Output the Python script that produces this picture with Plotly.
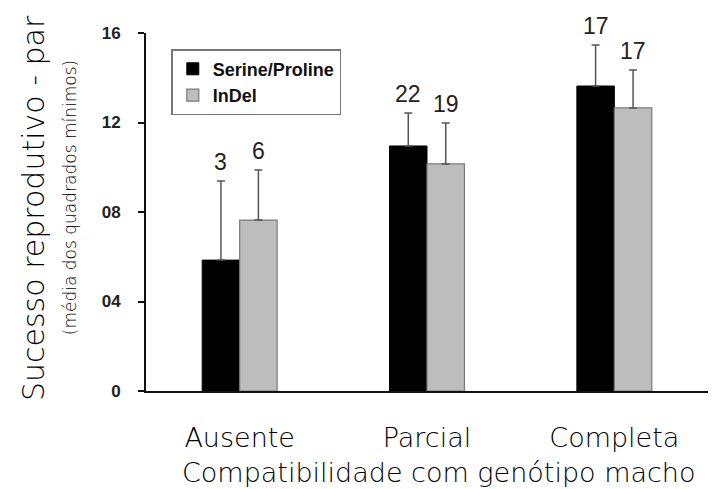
import plotly.graph_objects as go

# dados
categorias = ["Ausente", "Parcial", "Completa"]
serine_proline = [0.0585, 0.1095, 0.1363]
serine_proline_erro = [0.0354, 0.0147, 0.0183]
indel = [0.0764, 0.1015, 0.1265]
indel_erro = [0.0224, 0.0183, 0.0170]
n_serine = ["3", "22", "17"]
n_indel = ["6", "19", "17"]
y_ticks = [0, 0.04, 0.08, 0.12, 0.16]
y_ticktext = ["0", "04", "08", "12", "16"]

fonte_titulo = "DejaVu Sans"

fig = go.Figure()

fig.add_trace(go.Bar(
    x=categorias, y=serine_proline, name="Serine/Proline",
    marker=dict(color="#000000", line=dict(color="#000000", width=1)),
    error_y=dict(type="data", symmetric=False, array=serine_proline_erro,
                 arrayminus=[0, 0, 0], color="#555555", thickness=1.5, width=4),
))
fig.add_trace(go.Bar(
    x=categorias, y=indel, name="InDel",
    marker=dict(color="#bdbdbd", line=dict(color="#7a7a7a", width=1.2)),
    error_y=dict(type="data", symmetric=False, array=indel_erro,
                 arrayminus=[0, 0, 0], color="#555555", thickness=1.5, width=4),
))

# tamanhos amostrais acima das barras de erro
for i, cat in enumerate(categorias):
    fig.add_annotation(x=cat, y=serine_proline[i] + serine_proline_erro[i],
                       text=n_serine[i], showarrow=False, xshift=-18.7, yshift=4,
                       yanchor="bottom", font=dict(family="Arial", size=23, color="#222"))
    fig.add_annotation(x=cat, y=indel[i] + indel_erro[i],
                       text=n_indel[i], showarrow=False, xshift=18.7, yshift=4,
                       yanchor="bottom", font=dict(family="Arial", size=23, color="#222"))

# títulos dos eixos
fig.add_annotation(xref="paper", yref="paper", x=-0.2, y=0.51,
                   text="Sucesso reprodutivo - par", textangle=-90, showarrow=False,
                   xanchor="center", yanchor="middle",
                   font=dict(family=fonte_titulo, size=30, color="#000", weight=200))
fig.add_annotation(xref="paper", yref="paper", x=-0.135, y=0.539,
                   text="(média dos quadrados mínimos)", textangle=-90, showarrow=False,
                   xanchor="center", yanchor="middle",
                   font=dict(family=fonte_titulo, size=17, color="#000", weight=200))
fig.add_annotation(xref="paper", yref="paper", x=0.52, y=-0.229,
                   text="Compatibilidade com genótipo macho", showarrow=False,
                   xanchor="center", yanchor="middle",
                   font=dict(family=fonte_titulo, size=27, color="#000", weight=200))

fig.update_layout(
    width=728, height=489,
    margin=dict(l=138, r=28, t=25, b=106),
    paper_bgcolor="white", plot_bgcolor="white",
    barmode="group", bargap=0.6, bargroupgap=0,
    legend=dict(x=0.045, y=0.955, xanchor="left", yanchor="top",
                bordercolor="#777777", borderwidth=1.5, bgcolor="white",
                font=dict(family="Arial", size=18, color="#111", weight="bold"),
                itemwidth=30, tracegroupgap=8),
    showlegend=True,
)

fig.update_xaxes(
    showline=True, linecolor="#111", linewidth=2, ticks="",
    tickfont=dict(family=fonte_titulo, size=27, color="#000", weight=200),
    ticklabelstandoff=22, showgrid=False,
)
fig.update_yaxes(
    range=[0, 0.16], tickvals=y_ticks, ticktext=y_ticktext,
    showline=True, linecolor="#111", linewidth=2, ticks="outside",
    ticklen=6, tickwidth=2, tickcolor="#111", showgrid=False, zeroline=False,
    ticklabelstandoff=14,
    tickfont=dict(family="Arial", size=17, color="#222", weight="bold"),
)

fig.write_html("out.html")
